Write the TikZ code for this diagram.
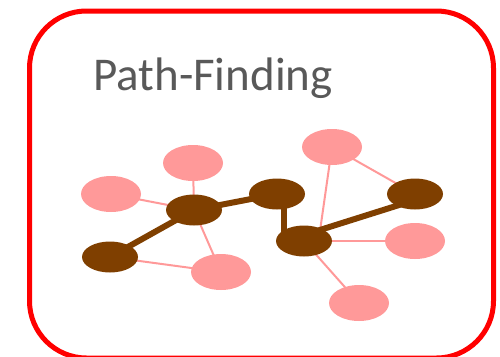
\documentclass[tikz,border=0pt]{standalone}
\usepackage{fontspec}
\setmainfont{Carlito}
\usetikzlibrary{backgrounds,calc,shapes.geometric}
\definecolor{pinkn}{HTML}{FF9999}
\definecolor{brownn}{HTML}{7F3F00}
\definecolor{txtgray}{HTML}{595959}
\tikzset{
  pnode/.style={ellipse,fill=pinkn,minimum width=60pt,minimum height=36pt,inner sep=0pt},
  bnode/.style={ellipse,fill=brownn,minimum width=56pt,minimum height=31pt,inner sep=0pt},
  thin edge/.style={draw=pinkn,line width=2pt},
  thick edge/.style={draw=brownn,line width=6pt},
}
\begin{document}
\begin{tikzpicture}[x=1pt,y=-1pt]
\useasboundingbox (0,0) rectangle (500,356);
\begin{scope}
\clip (0,0) rectangle (500,356);
\draw[red,line width=5pt,rounded corners=57pt] (29.5,11) rectangle (493.5,358);
\end{scope}
\node[anchor=base west,text=txtgray,font=\fontsize{47}{50}\selectfont,inner sep=0pt] (title) at (93,90) {Path-Finding};
% pink nodes
\node[pnode] (P1) at (193,163) {};
\node[pnode] (P2) at (111,194) {};
\node[pnode] (P3) at (221,272) {};
\node[pnode] (P4) at (332,147) {};
\node[pnode] (P5) at (415,241) {};
\node[pnode] (P6) at (359,303) {};
% brown nodes
\node[bnode] (B1) at (194,210) {};
\node[bnode] (B2) at (110,257) {};
\node[bnode] (B3) at (277,194) {};
\node[bnode] (B4) at (304,241) {};
\node[bnode] (B5) at (415,194) {};
\begin{pgfonlayer}{background}
\draw[thin edge] (P2.center) -- (B1.center);
\draw[thin edge] (P1.center) -- (B1.center);
\draw[thin edge] (B1.center) -- (P3.center);
\draw[thin edge] (B2.center) -- (P3.center);
\draw[thin edge] (P4.center) -- ($(B4.center)+(16,-10)$);
\draw[thin edge] (P4.center) -- (B5.center);
\draw[thin edge] (B4.center) -- (P5.center);
\draw[thin edge] (B4.center) -- (P6.center);
\draw[thick edge] (B2.center) -- (B1.center);
\draw[thick edge] (B1.center) -- (B3.center);
\draw[thick edge] ($(B3.center)+(7,0)$) -- ($(B3.center)+(7,47)$);
\draw[thick edge] ($(B4.center)+(0,-6)$) -- ($(B5.center)+(0,6)$);
\end{pgfonlayer}
\end{tikzpicture}
\end{document}
